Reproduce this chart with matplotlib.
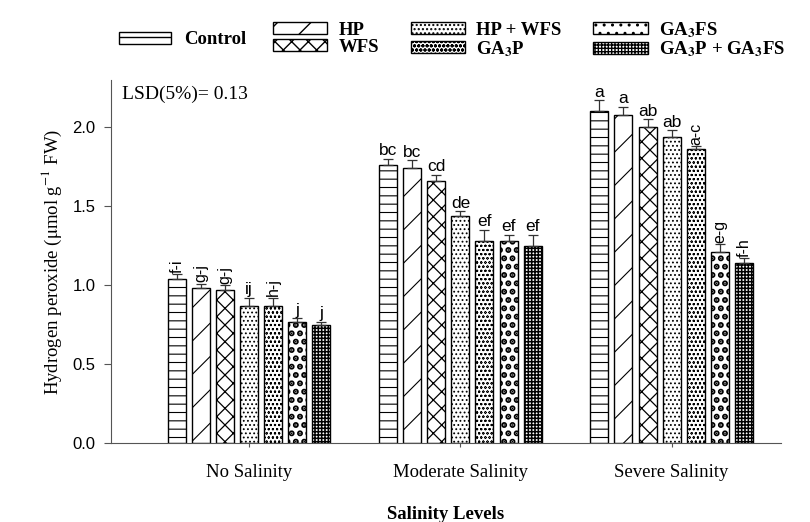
import numpy as np
import matplotlib.pyplot as plt
from matplotlib.patches import Patch

plt.rcParams['mathtext.fontset'] = 'stix'

groups = ['No Salinity', 'Moderate Salinity', 'Severe Salinity']
treatments = ['Control', 'HP', 'WFS', 'HP + WFS', r'GA$_\mathbf{3}$P',
              r'GA$_\mathbf{3}$FS', r'GA$_\mathbf{3}$P + GA$_\mathbf{3}$FS']

# H2O2 means per treatment, one list per salinity level
no_sal = [1.04, 0.98, 0.97, 0.87, 0.87, 0.77, 0.75]
mod_sal = [1.76, 1.74, 1.66, 1.44, 1.28, 1.28, 1.25]
sev_sal = [2.10, 2.08, 2.00, 1.94, 1.86, 1.21, 1.14]

no_err = [0.03, 0.03, 0.03, 0.05, 0.05, 0.02, 0.02]
mod_err = [0.04, 0.05, 0.04, 0.03, 0.07, 0.04, 0.07]
sev_err = [0.07, 0.05, 0.05, 0.04, 0.02, 0.05, 0.03]

no_let = ['f-i', 'g-j', 'g-j', 'ij', 'h-j', 'j', 'j']
mod_let = ['bc', 'bc', 'cd', 'de', 'ef', 'ef', 'ef']
sev_let = ['a', 'a', 'ab', 'ab', 'a-c', 'e-g', 'f-h']

hatches = ['--', '/', 'xx', '....', 'oooo', '..', '+++++']
hatch_lw = [0.8, 0.8, 0.9, 0.8, 0.45, 3.0, 1.1]

vals = np.array([no_sal, mod_sal, sev_sal])
errs = np.array([no_err, mod_err, sev_err])
lets = [no_let, mod_let, sev_let]

fig = plt.figure(figsize=(8.1, 5.22), dpi=100)
ax = fig.add_axes([0.137, 0.151, 0.827, 0.696])

x = np.arange(len(groups))
step = 0.114
width = 0.085

for i in range(len(treatments)):
    pos = x + (i - 3) * step
    with plt.rc_context({'hatch.linewidth': hatch_lw[i]}):
        ax.bar(pos, vals[:, i], width, color='white', edgecolor='black',
               hatch=hatches[i], linewidth=1.0, zorder=2)
    ax.errorbar(pos, vals[:, i], yerr=[np.zeros(3), errs[:, i]], fmt='none',
                ecolor='#333333', elinewidth=0.9, capsize=3.5, capthick=0.9, zorder=3)
    for g in range(len(groups)):
        top = vals[g, i] + errs[g, i]
        lab = lets[g][i]
        if '-' in lab:
            ax.text(pos[g], top + 0.01, lab, rotation=90, ha='center', va='bottom',
                    fontsize=11.5, family='Liberation Sans')
        else:
            ax.text(pos[g], top + 0.003, lab, ha='center', va='bottom',
                    fontsize=12.5, family='Liberation Sans')

ax.set_xlim(-0.654, 2.517)
ax.set_ylim(0, 2.3)
ax.set_yticks([0.0, 0.5, 1.0, 1.5, 2.0])
ax.set_yticklabels(['0.0', '0.5', '1.0', '1.5', '2.0'], family='Liberation Sans', fontsize=12)
ax.set_xticks(x)
ax.set_xticklabels(groups, family='Liberation Serif', fontsize=13.5)
ax.tick_params(axis='x', length=3, color='#555555', pad=12)
ax.tick_params(axis='y', length=5, color='#555555', pad=6)
for s in ['top', 'right']:
    ax.spines[s].set_visible(False)
for s in ['left', 'bottom']:
    ax.spines[s].set_color('#555555')

ax.set_ylabel(r'Hydrogen peroxide ($\mathrm{\mu}$mol g$^{-1}$ FW)',
              family='Liberation Serif', fontsize=13.5, labelpad=6)
ax.set_xlabel('Salinity Levels', family='Liberation Serif', fontsize=13.5,
              fontweight='bold', labelpad=18)

ax.text(0.016, 0.985, 'LSD(5%)= 0.13', transform=ax.transAxes, ha='left', va='top',
        family='Liberation Serif', fontsize=14)

handles = []
for h, lw in zip(hatches, hatch_lw):
    with plt.rc_context({'hatch.linewidth': lw}):
        handles.append(Patch(facecolor='white', edgecolor='black', hatch=h, linewidth=1.0))
leg_font = {'family': 'Liberation Serif', 'weight': 'bold', 'size': 13.5}
fig.legend(handles[:1], treatments[:1], loc='center left', bbox_to_anchor=(0.135, 0.924),
           frameon=False, prop=leg_font, handlelength=2.8, handleheight=0.6,
           handletextpad=0.7, borderpad=0)
fig.legend(handles[1:], treatments[1:], loc='center left', bbox_to_anchor=(0.325, 0.924),
           ncol=3, frameon=False, prop=leg_font, handlelength=2.9, handleheight=0.6,
           handletextpad=0.6, labelspacing=0.0, columnspacing=1.7, borderpad=0)

fig.savefig('out.png', dpi=100)
